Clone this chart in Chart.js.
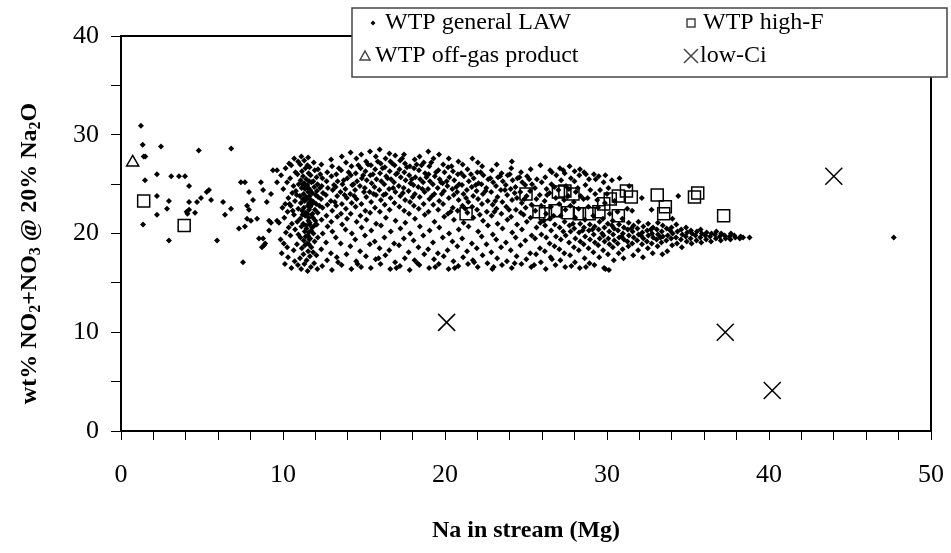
<!DOCTYPE html>
<html>
<head>
<meta charset="utf-8">
<script src="https://cdn.jsdelivr.net/npm/chart.js@4/dist/chart.umd.min.js"></script>
<style>
  html, body { margin: 0; padding: 0; background: #fff; }
  #wrap { position: relative; width: 951px; height: 553px; }
</style>
</head>
<body>
<div id="wrap"><canvas id="chart" width="951" height="553"></canvas></div>
<script>
// WTP general LAW batches: [Na in stream (Mg), wt% NO2+NO3]
const lawPoints = [
  [1.23,30.9],[1.34,29.0],[1.40,27.8],[1.50,27.8],[2.47,28.8],[4.8,28.4],[6.8,28.6],[1.48,25.4],[2.22,26.0],[3.1,25.8],
  [3.58,25.8],[3.95,25.8],[4.2,24.8],[2.22,23.8],[2.96,23.3],[2.84,22.5],[2.22,21.9],[1.36,20.9],[2.96,19.3],[4.2,23.2],
  [4.2,22.4],[4.05,22.2],[4.1,22.0],[4.57,22.1],[4.69,23.2],[4.94,23.6],[5.29,24.2],[5.43,24.4],[5.56,23.4],[5.93,19.3],
  [6.3,23.2],[6.42,21.9],[6.79,22.5],[7.28,20.5],[7.53,17.1],[7.4,25.2],[7.65,25.2],[7.9,24.2],[8.15,23.4],[7.78,22.8],
  [7.9,22.4],[7.78,21.5],[7.65,20.7],[8.02,21.3],[8.4,21.5],[8.52,19.5],[8.77,19.5],[8.9,19.0],[8.83,18.8],[8.7,18.6],
  [8.64,25.2],[8.77,24.4],[9.0,23.2],[9.14,21.3],[9.26,21.1],[9.14,20.3],[9.38,26.4],[9.63,26.4],[9.63,25.2],[9.26,24.0],
  [9.63,21.3],[9.75,21.1],
  [9.92,18.0],[9.85,19.4],[9.96,22.6],[9.88,25.9],
  [10.12,16.9],[10.05,19.0],[10.18,20.1],[10.08,21.6],[10.14,23.0],[10.02,24.5],[10.16,26.6],
  [10.31,17.6],[10.26,18.6],[10.35,20.6],[10.28,22.2],[10.33,23.6],[10.25,25.2],[10.38,27.1],
  [10.52,16.5],[10.46,19.8],[10.55,21.0],[10.48,22.8],[10.57,24.1],[10.44,25.6],[10.51,26.9],
  [10.72,17.2],[10.66,18.3],[10.75,20.4],[10.68,21.9],[10.74,23.3],[10.65,24.8],[10.77,26.2],[10.69,27.6],
  [10.92,16.8],[10.86,18.9],[10.95,19.9],[10.88,21.2],[10.94,22.5],[10.85,23.9],[10.97,25.0],[10.89,26.0],[10.93,27.3],
  [11.12,16.4],[11.05,17.5],[11.16,18.5],[11.08,19.6],[11.14,20.7],[11.06,21.5],[11.18,22.3],[11.1,23.1],[11.04,23.8],[11.15,24.6],[11.09,25.4],[11.17,26.3],[11.07,27.0],[11.13,27.8],
  [11.32,16.9],[11.26,17.9],[11.35,18.8],[11.28,19.3],[11.34,20.2],[11.25,21.0],[11.37,21.8],[11.29,22.6],[11.33,23.3],[11.27,24.0],[11.36,24.5],[11.3,25.1],[11.24,25.8],[11.38,26.6],[11.31,27.4],
  [11.52,16.2],[11.46,17.3],[11.55,18.2],[11.48,19.0],[11.54,19.8],[11.45,20.5],[11.57,21.3],[11.49,22.0],[11.53,22.8],[11.47,23.5],[11.56,24.2],[11.5,24.9],[11.44,25.5],[11.58,26.1],[11.51,26.9],[11.55,27.7],
  [11.72,16.6],[11.66,17.7],[11.75,18.6],[11.68,19.5],[11.74,20.3],[11.65,21.1],[11.77,21.9],[11.69,22.7],[11.73,23.4],[11.67,24.4],[11.76,25.2],[11.7,25.9],[11.64,26.7],
  [11.92,17.0],[11.86,18.1],[11.95,19.2],[11.88,20.0],[11.94,20.8],[11.85,21.6],[11.97,22.4],[11.89,23.2],[11.93,24.7],[11.87,25.3],[11.96,26.4],[11.9,27.2],
  [12.12,16.4],[12.06,17.8],[12.15,19.6],[12.08,20.9],[12.14,22.1],[12.05,23.0],[12.17,23.7],[12.09,24.3],[12.13,25.0],[12.07,25.7],[12.16,26.5],
  [12.42,16.7],[12.36,18.4],[12.45,20.0],[12.38,21.4],[12.44,22.6],[12.35,23.5],[12.47,24.1],[12.39,24.8],[12.43,25.6],[12.37,27.0],
  [12.72,17.3],[12.66,19.1],[12.75,20.7],[12.68,21.8],[12.74,22.9],[12.65,23.9],[12.77,24.6],[12.69,25.3],[12.73,26.2],
  [13.02,16.3],[12.96,18.0],[13.05,20.2],[12.98,21.2],[13.04,22.3],[12.95,23.3],[13.07,24.4],[12.99,25.8],[13.03,26.8],[12.97,27.5],
  [13.32,17.6],[13.26,19.6],[13.35,21.7],[13.28,22.8],[13.34,23.8],[13.25,24.7],[13.37,25.3],[13.29,26.0],
  [13.62,16.8],[13.56,19.0],[13.65,20.9],[13.58,22.0],[13.64,23.0],[13.55,24.2],[13.67,25.0],[13.59,26.4],[13.63,27.8],
  [13.92,17.9],[13.86,20.4],[13.95,21.5],[13.88,22.5],[13.94,23.6],[13.85,24.5],[13.97,25.6],[13.89,27.2],
  [14.22,16.4],[14.16,18.7],[14.25,20.0],[14.18,22.0],[14.24,23.1],[14.15,24.0],[14.27,24.9],[14.19,25.9],[14.23,26.8],[14.17,28.2],
  [14.52,17.2],[14.46,19.4],[14.55,21.2],[14.48,22.7],[14.54,23.5],[14.45,24.4],[14.57,25.3],[14.49,26.1],[14.53,27.6],
  [14.82,16.6],[14.76,18.2],[14.85,20.6],[14.78,21.8],[14.84,23.0],[14.75,24.8],[14.87,25.6],[14.79,26.6],[14.83,28.0],
  [15.12,17.7],[15.06,19.8],[15.15,21.4],[15.08,22.3],[15.14,23.7],[15.05,24.6],[15.17,25.4],[15.09,26.3],[15.13,27.3],
  [15.42,16.5],[15.36,18.9],[15.45,20.3],[15.38,22.1],[15.44,23.2],[15.35,24.2],[15.47,25.1],[15.39,25.9],[15.43,26.9],[15.37,28.3],
  [15.72,17.4],[15.66,19.2],[15.75,21.0],[15.68,22.6],[15.74,23.9],[15.65,24.7],[15.77,25.5],[15.69,26.5],[15.73,27.8],
  [16.02,16.9],[15.96,18.5],[16.05,20.8],[15.98,22.2],[16.04,23.4],[15.95,24.4],[16.07,25.3],[15.99,26.1],[16.03,27.1],[15.97,28.5],
  [16.32,17.8],[16.26,19.6],[16.35,21.6],[16.28,22.9],[16.34,24.0],[16.25,25.0],[16.37,25.8],[16.29,26.7],[16.33,27.6],
  [16.62,16.4],[16.56,18.3],[16.65,20.2],[16.58,22.4],[16.64,23.6],[16.55,24.5],[16.67,25.5],[16.59,26.3],[16.63,27.3],[16.57,28.1],
  [16.92,17.1],[16.86,19.0],[16.95,21.3],[16.88,23.1],[16.94,24.2],[16.85,25.2],[16.97,26.0],[16.89,26.9],[16.93,27.9],
  [17.22,16.7],[17.16,18.8],[17.25,20.5],[17.18,22.7],[17.24,23.8],[17.15,24.8],[17.27,25.7],[17.19,26.5],[17.23,27.4],
  [17.52,17.5],[17.46,19.5],[17.55,21.1],[17.48,22.3],[17.54,23.4],[17.45,24.6],[17.57,25.4],[17.49,26.2],[17.53,27.1],[17.47,28.0],
  [17.82,16.3],[17.76,18.1],[17.85,20.0],[17.78,22.0],[17.84,23.2],[17.75,24.3],[17.87,25.1],[17.79,25.9],[17.83,26.8],
  [18.12,17.3],[18.06,19.3],[18.15,21.5],[18.08,22.8],[18.14,24.0],[18.05,24.9],[18.17,25.7],[18.09,26.6],[18.13,27.5],
  [18.42,16.8],[18.36,18.6],[18.45,20.7],[18.38,22.5],[18.44,23.7],[18.35,24.7],[18.47,25.5],[18.39,26.4],[18.43,27.8],
  [18.72,17.9],[18.66,19.8],[18.75,21.9],[18.68,23.0],[18.74,24.2],[18.65,25.2],[18.77,26.1],[18.69,27.2],
  [19.02,16.5],[18.96,18.4],[19.05,20.3],[18.98,22.2],[19.04,23.5],[18.95,24.5],[19.07,25.3],[18.99,26.0],[19.03,26.8],[18.97,28.3],
  [19.32,17.4],[19.26,19.1],[19.35,21.2],[19.28,22.9],[19.34,24.0],[19.25,25.0],[19.37,25.8],[19.29,27.6],
  [19.62,16.9],[19.56,18.0],[19.65,20.6],[19.58,22.4],[19.64,23.3],[19.55,24.6],[19.67,25.5],[19.59,26.4],[19.63,28.0],
  [19.92,17.7],[19.86,19.6],[19.95,21.7],[19.88,23.0],[19.94,24.3],[19.85,25.1],[19.97,26.2],[19.89,27.0],
  [20.22,16.4],[20.16,18.3],[20.25,20.0],[20.18,22.0],[20.24,23.6],[20.15,24.8],[20.27,25.7],[20.19,26.7],[20.23,27.6],
  [20.52,17.2],[20.46,19.2],[20.55,21.4],[20.48,22.6],[20.54,23.9],[20.45,24.5],[20.57,25.4],[20.49,26.3],
  [20.82,16.7],[20.76,18.7],[20.85,20.4],[20.78,22.3],[20.84,23.4],[20.75,24.2],[20.87,25.0],[20.79,26.0],[20.83,27.3],
  [21.12,17.6],[21.06,19.5],[21.15,21.1],[21.08,22.8],[21.14,24.0],[21.05,24.9],[21.17,25.8],[21.09,27.0],
  [21.42,16.9],[21.36,18.2],[21.45,20.7],[21.38,22.1],[21.44,23.2],[21.35,24.4],[21.47,25.3],[21.39,26.5],
  [21.72,17.3],[21.66,19.0],[21.75,21.6],[21.68,22.7],[21.74,23.8],[21.65,24.7],[21.77,25.6],[21.69,27.6],
  [22.02,16.6],[21.96,18.5],[22.05,20.2],[21.98,22.4],[22.04,23.5],[21.95,24.3],[22.07,25.1],[21.99,26.2],[22.03,27.2],
  [22.32,17.8],[22.26,19.7],[22.35,21.3],[22.28,23.0],[22.34,24.0],[22.25,25.0],[22.37,25.9],[22.29,26.8],
  [22.62,17.0],[22.56,18.9],[22.65,20.8],[22.58,22.2],[22.64,23.3],[22.55,24.6],[22.67,25.5],
  [22.92,16.4],[22.86,18.1],[22.95,19.9],[22.88,21.8],[22.94,22.9],[22.85,24.2],[22.97,25.2],[22.89,26.4],
  [23.22,17.5],[23.16,19.4],[23.25,21.0],[23.18,22.5],[23.24,23.7],[23.15,24.8],[23.27,25.7],[23.19,27.0],
  [23.52,16.8],[23.46,18.6],[23.55,20.5],[23.48,22.0],[23.54,23.2],[23.45,24.4],[23.57,25.3],[23.49,26.1],
  [23.82,17.2],[23.76,19.1],[23.85,21.4],[23.78,22.7],[23.84,23.9],[23.75,24.9],[23.87,25.9],
  [24.12,16.5],[24.06,18.3],[24.15,20.1],[24.08,21.7],[24.14,23.4],[24.05,24.5],[24.17,25.4],[24.09,26.6],[24.13,27.3],
  [24.42,17.7],[24.36,19.6],[24.45,20.9],[24.38,22.4],[24.44,23.6],[24.35,24.7],[24.47,25.6],
  [24.72,16.9],[24.66,18.8],[24.75,20.4],[24.68,22.1],[24.74,23.1],[24.65,24.2],[24.77,25.2],[24.69,26.2],
  [25.02,17.4],[24.96,19.3],[25.05,21.2],[24.98,22.6],[25.04,23.8],[24.95,24.9],[25.07,25.8],
  [25.32,16.6],[25.26,18.0],[25.35,19.8],[25.28,21.6],[25.34,22.9],[25.25,24.3],[25.37,25.0],[25.29,26.5],
  [25.62,17.9],[25.56,19.5],[25.65,20.6],[25.58,22.3],[25.64,23.5],[25.55,24.6],[25.67,25.5],
  [25.92,17.1],[25.86,18.5],[25.95,19.9],[25.88,21.1],[25.94,22.8],[25.85,23.9],[25.97,25.2],[25.89,26.9],
  [26.22,16.4],[26.16,18.2],[26.25,19.6],[26.18,20.8],[26.24,22.0],[26.15,23.3],[26.27,24.5],[26.19,25.7],
  [26.52,17.6],[26.46,19.0],[26.55,20.3],[26.48,21.5],[26.54,22.7],[26.45,24.1],[26.57,25.0],[26.49,26.4],
  [26.82,16.8],[26.76,18.7],[26.85,19.7],[26.78,20.9],[26.84,23.6],[26.75,24.7],[26.87,25.9],
  [27.12,17.3],[27.06,18.4],[27.15,19.4],[27.08,20.6],[27.14,21.8],[27.05,23.0],[27.17,25.4],[27.09,26.6],
  [27.42,16.6],[27.36,18.0],[27.45,19.8],[27.38,21.2],[27.44,22.4],[27.35,23.4],[27.47,24.8],[27.39,26.1],
  [27.72,17.8],[27.66,19.1],[27.75,20.2],[27.68,20.8],[27.74,22.8],[27.65,24.5],[27.77,25.6],[27.69,26.8],
  [28.02,17.1],[27.96,18.6],[28.05,19.5],[27.98,20.5],[28.04,21.6],[27.95,23.2],[28.07,24.2],[27.99,25.3],
  [28.32,16.5],[28.26,18.3],[28.35,19.2],[28.28,20.1],[28.34,21.0],[28.25,22.5],[28.37,23.8],[28.29,25.9],[28.33,26.5],
  [28.62,17.5],[28.56,18.9],[28.65,19.7],[28.58,20.6],[28.64,21.4],[28.55,23.5],[28.67,24.9],[28.59,26.2],
  [28.92,17.0],[28.86,18.5],[28.95,19.4],[28.88,20.3],[28.94,20.9],[28.85,22.7],[28.97,24.4],[28.89,25.5],
  [29.22,16.8],[29.16,18.1],[29.25,19.1],[29.18,19.9],[29.24,20.7],[29.15,21.8],[29.27,24.0],[29.19,26.0],
  [29.52,17.6],[29.46,18.8],[29.55,19.5],[29.48,20.4],[29.54,21.2],[29.45,22.6],[29.57,24.4],[29.49,25.8],
  [29.82,16.5],[29.76,18.3],[29.85,19.2],[29.78,19.8],[29.84,20.6],[29.75,21.5],[29.87,23.1],[29.79,25.2],
  [30.12,16.3],[30.06,17.9],[30.15,18.9],[30.08,19.5],[30.14,20.2],[30.05,21.0],[30.17,22.0],[30.09,24.6],
  [30.42,17.3],[30.36,18.6],[30.45,19.3],[30.38,19.9],[30.44,20.5],[30.35,21.3],[30.47,23.3],
  [30.72,18.0],[30.66,19.0],[30.75,19.6],[30.68,20.3],[30.74,20.9],[30.65,22.2],[30.77,25.6],
  [31.02,17.5],[30.96,18.4],[31.05,19.4],[30.98,20.0],[31.04,20.6],[30.95,21.5],
  [31.32,18.7],[31.26,19.2],[31.35,19.8],[31.28,20.4],[31.34,21.1],[31.25,22.5],[31.37,24.8],
  [31.62,17.8],[31.56,19.0],[31.65,19.6],[31.58,20.2],[31.64,20.8],[31.55,22.3],
  [31.92,18.3],[31.86,19.3],[31.95,19.9],[31.88,20.5],[31.94,21.2],
  [32.22,17.6],[32.16,18.9],[32.25,19.5],[32.18,20.1],[32.24,20.7],[32.15,23.6],
  [32.52,18.5],[32.46,19.2],[32.55,19.8],[32.48,20.3],[32.54,21.0],
  [32.82,18.0],[32.76,19.0],[32.85,19.6],[32.78,20.0],[32.84,20.6],[32.75,22.4],
  [33.12,18.7],[33.06,19.4],[33.15,19.9],[33.08,20.4],[33.14,21.1],
  [33.42,17.9],[33.36,19.1],[33.45,19.7],[33.38,20.2],[33.44,20.8],
  [33.72,18.2],[33.66,19.3],[33.75,19.8],[33.68,20.5],
  [34.02,18.8],[33.96,19.5],[34.05,20.0],[33.98,20.6],[34.04,21.5],[34.4,23.8],
  [34.32,19.0],[34.26,19.6],[34.35,20.2],[34.28,20.9],
  [34.62,18.6],[34.56,19.4],[34.65,19.9],[34.58,20.4],
  [34.92,19.2],[34.86,19.7],[34.95,20.1],[34.88,20.6],
  [35.22,19.0],[35.16,19.5],[35.25,20.0],[35.18,20.3],
  [35.52,19.3],[35.46,19.8],[35.55,20.2],
  [35.82,19.1],[35.76,19.6],[35.85,20.0],[35.78,20.4],
  [36.12,19.4],[36.06,19.8],[36.15,20.1],
  [36.42,19.2],[36.36,19.7],[36.45,20.0],
  [36.72,19.5],[36.66,19.9],[36.75,20.2],
  [37.02,19.3],[36.96,19.7],[37.05,20.0],
  [37.32,19.5],[37.26,19.8],
  [37.62,19.4],[37.56,19.7],[37.65,20.0],
  [37.92,19.6],[37.86,19.8],
  [38.2,19.5],[38.25,19.7],[38.4,19.6],[38.8,19.6],
  [47.7,19.6],
  // second reading pass: denser streak near 11.5 Mg and upper band
  [11.6,18.9],[11.62,19.4],[11.58,20.1],[11.63,20.9],[11.59,21.6],[11.61,22.4],[11.6,23.1],[11.64,23.8],[11.57,24.6],[11.62,25.3],
  [11.4,19.7],[11.42,20.8],[11.41,22.1],[11.43,23.7],[11.39,24.8],[11.8,20.6],[11.82,22.0],[11.79,23.0],[11.81,24.1],[11.2,21.9],
  [11.22,23.5],[11.21,25.0],[10.6,22.3],[10.8,24.3],[10.4,23.0],[12.0,21.3],[12.02,23.9],[12.25,22.8],[12.28,24.6],[12.3,26.0],
  [13.15,24.9],[13.45,26.6],[13.75,25.4],[14.05,26.2],[14.35,25.0],[14.65,26.9],[14.95,25.9],[15.25,27.0],[15.55,26.0],[15.85,27.3],
  [16.15,26.6],[16.45,25.6],[16.75,27.1],[17.05,26.1],[17.35,27.6],[17.65,26.7],[17.95,25.5],[18.25,27.0],[18.55,26.9],[18.85,25.7],
  [19.15,27.2],[19.45,26.2],[19.75,25.2],[13.2,23.2],[13.8,23.9],[14.4,23.8],[15.0,24.2],[15.6,24.0],[16.2,23.9],[16.8,24.6],
  [17.4,24.1],[18.0,23.7],[18.6,24.5],[19.2,23.8],[19.8,24.0],
  [20.1,25.3],[20.4,26.8],[20.7,24.7],[21.0,26.1],[21.3,23.6],[21.6,26.0],[21.9,24.9],[22.2,26.2],[22.5,24.3],[22.8,25.6],
  [23.1,23.3],[23.4,25.8],[23.7,24.4],[24.0,26.0],[24.3,24.1],[24.6,25.7],[24.9,23.5],[25.2,25.5],[20.35,22.2],[21.25,22.5],
  [22.15,21.9],[23.05,22.2],[23.95,22.4],[24.85,21.9],
  [26.1,21.3],[26.7,21.8],[27.3,20.2],[27.9,21.0],[28.5,20.3],[29.1,20.4],[29.7,20.0],[30.3,20.8],[30.9,19.7],[31.5,20.5],
  [32.1,19.8],[32.7,20.4],[33.3,19.6],[33.9,20.3],[26.3,23.9],[27.0,24.4],[27.6,23.8],[28.2,24.6],[28.8,23.6],[29.4,23.4],
  [30.0,24.0],[26.6,26.2],[27.3,26.4],[28.0,26.3],[28.7,26.0],[29.3,25.5],[29.9,25.9],[30.3,25.4],
  [13.4,17.1],[14.6,16.9],[15.9,17.5],[17.0,16.5],[18.3,17.0],[19.4,16.6],[20.6,16.5],[21.8,17.1],[23.0,16.6],[24.3,17.0],
  [25.5,16.8],[26.6,17.4],[27.8,16.7],[28.7,16.6],[29.9,16.4]
];

// WTP high-F batches
const highFPoints = [
  [1.4,23.3],[3.9,20.8],[21.3,22.0],[25.0,24.0],[25.8,22.2],[26.2,22.0],[26.8,22.3],[27.0,24.2],[27.4,24.3],[27.9,24.0],
  [27.6,22.1],[28.3,22.0],[28.9,22.0],[29.5,22.2],[29.8,23.0],[30.2,23.5],[30.7,23.8],[30.7,21.8],[31.2,24.3],[31.5,23.7],
  [33.1,23.9],[33.6,22.7],[33.5,22.0],[35.4,23.7],[35.6,24.1],[37.2,21.8]
];

// WTP off-gas product
const offGasPoints = [[0.72,27.2]];

// low-Ci
const lowCiPoints = [[20.1,11.0],[44.0,25.8],[37.3,10.0],[40.2,4.1]];

const xTicks = [0, 10, 20, 30, 40, 50];
const yTicks = [0, 10, 20, 30, 40];

const serif = "'Liberation Serif', 'Times New Roman', serif";
const toXY = pts => pts.map(p => ({x: p[0], y: p[1]}));

// y axis title with real subscripts
const yTitleParts = [['wt% NO', 0], ['2', 1], ['+NO', 0], ['3', 1], [' @ 20% Na', 0], ['2', 1], ['O', 0]];

const framePlugin = {
  id: 'frame',
  afterDraw(chart) {
    const {ctx, chartArea: a} = chart;
    ctx.save();
    ctx.strokeStyle = '#000';
    ctx.lineWidth = 2;
    ctx.strokeRect(a.left, a.top, a.right - a.left, a.bottom - a.top);

    // y title
    const big = 'bold 24px ' + serif, small = 'bold 16px ' + serif;
    let total = 0;
    yTitleParts.forEach(([t, s]) => { ctx.font = s ? small : big; total += ctx.measureText(t).width; });
    ctx.translate(36, (a.top + a.bottom) / 2 + 20);
    ctx.rotate(-Math.PI / 2);
    ctx.fillStyle = '#000';
    ctx.textBaseline = 'alphabetic';
    ctx.textAlign = 'left';
    let px = -total / 2;
    yTitleParts.forEach(([t, s]) => {
      ctx.font = s ? small : big;
      ctx.fillText(t, px, s ? 4 : 0);
      px += ctx.measureText(t).width;
    });
    ctx.setTransform(1, 0, 0, 1, 0, 0);

    // legend
    const bx = 352, by = 8, bw = 595, bh = 69;
    ctx.fillStyle = '#fff';
    ctx.fillRect(bx, by, bw, bh);
    ctx.strokeStyle = '#444';
    ctx.lineWidth = 1.5;
    ctx.strokeRect(bx, by, bw, bh);

    ctx.fillStyle = '#000';
    ctx.font = '24px ' + serif;
    ctx.textBaseline = 'middle';
    ctx.textAlign = 'left';
    const r1 = 23, r2 = 56;
    ctx.beginPath();
    ctx.moveTo(373, r1 - 2.5); ctx.lineTo(375.5, r1); ctx.lineTo(373, r1 + 2.5); ctx.lineTo(370.5, r1);
    ctx.closePath(); ctx.fill();
    ctx.fillText('WTP general LAW', 385, r1);
    ctx.lineWidth = 1.5;
    ctx.strokeRect(687, r1 - 4, 8, 8);
    ctx.fillText('WTP high-F', 703, r1);
    ctx.beginPath();
    ctx.moveTo(365, r2 - 5); ctx.lineTo(370, r2 + 4); ctx.lineTo(360, r2 + 4);
    ctx.closePath(); ctx.stroke();
    ctx.fillText('WTP off-gas product', 375, r2);
    ctx.beginPath();
    ctx.moveTo(684, r2 - 7); ctx.lineTo(698, r2 + 7);
    ctx.moveTo(698, r2 - 7); ctx.lineTo(684, r2 + 7);
    ctx.stroke();
    ctx.fillText('low-Ci', 700, r2);
    ctx.restore();
  }
};

new Chart(document.getElementById('chart'), {
  type: 'scatter',
  data: {
    datasets: [
      {
        label: 'WTP general LAW',
        data: toXY(lawPoints),
        pointStyle: 'rectRot',
        pointRadius: 3,
        backgroundColor: '#000',
        borderColor: '#000',
        borderWidth: 0,
      },
      {
        label: 'WTP high-F',
        data: toXY(highFPoints),
        pointStyle: 'rect',
        pointRadius: 8.5,
        backgroundColor: 'rgba(0,0,0,0)',
        borderColor: '#000',
        borderWidth: 1.5,
      },
      {
        label: 'WTP off-gas product',
        data: toXY(offGasPoints),
        pointStyle: 'triangle',
        pointRadius: 7,
        backgroundColor: 'rgba(0,0,0,0)',
        borderColor: '#000',
        borderWidth: 1.5,
      },
      {
        label: 'low-Ci',
        data: toXY(lowCiPoints),
        pointStyle: 'crossRot',
        pointRadius: 12,
        borderColor: '#000',
        borderWidth: 1.5,
      },
    ]
  },
  options: {
    responsive: false,
    animation: false,
    events: [],
    layout: { padding: { left: 0, top: 36, right: 20, bottom: 0 } },
    plugins: { legend: { display: false }, title: { display: false }, tooltip: { enabled: false } },
    scales: {
      x: {
        type: 'linear', min: 0, max: 50,
        afterFit(s) { s.height = 122; s.paddingLeft = 0; s.paddingRight = 0; },
        ticks: {
          stepSize: 2, autoSkip: false, maxRotation: 0, padding: 20,
          color: '#000', font: { family: serif, size: 26 },
          callback: v => xTicks.includes(v) ? String(v) : ''
        },
        grid: { drawOnChartArea: false, drawTicks: true, tickLength: 9, color: '#000', lineWidth: 1 },
        border: { display: true, color: '#000', width: 2 },
        title: {
          display: true, text: 'Na in stream (Mg)', color: '#000',
          font: { family: serif, size: 24, weight: 'bold' }, padding: { top: 0, bottom: 8 }
        }
      },
      y: {
        type: 'linear', min: 0, max: 40,
        afterFit(s) { s.width = 121; },
        ticks: {
          stepSize: 5, autoSkip: false, padding: 12,
          color: '#000', font: { family: serif, size: 26 },
          callback: v => yTicks.includes(v) ? String(v) : ''
        },
        grid: { drawOnChartArea: false, drawTicks: true, tickLength: 10, color: '#000', lineWidth: 1 },
        border: { display: true, color: '#000', width: 2 }
      }
    }
  },
  plugins: [framePlugin]
});
</script>
</body>
</html>
